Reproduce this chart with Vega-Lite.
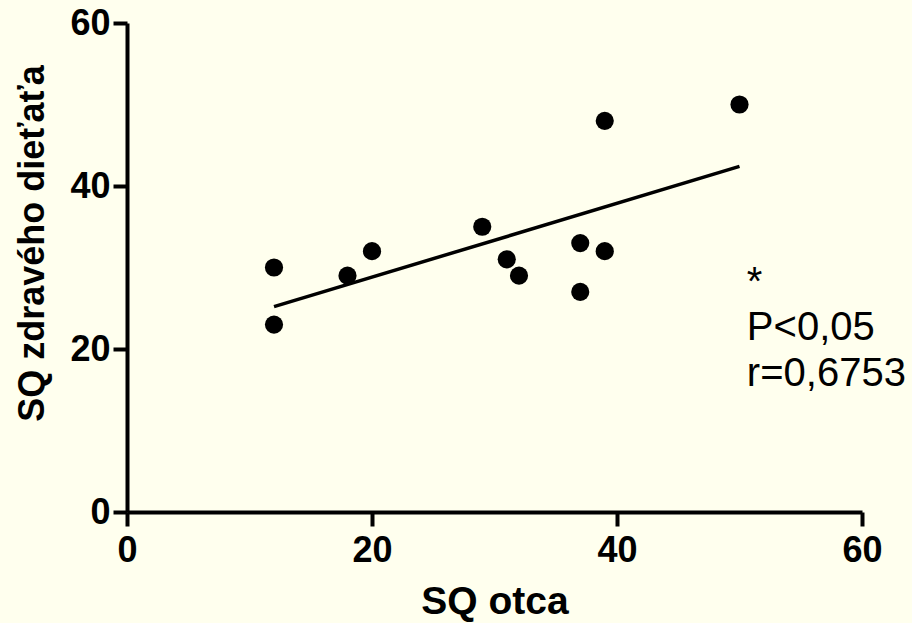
{
  "$schema": "https://vega.github.io/schema/vega-lite/v6.json",
  "width": 735,
  "height": 489,
  "autosize": "none",
  "padding": {"left": 127, "top": 23, "right": 50, "bottom": 111},
  "background": "#FFFFEE",
  "config": {
    "view": {"stroke": null},
    "font": "Liberation Sans",
    "axis": {
      "grid": false,
      "labelFlush": false,
      "domainColor": "#000000",
      "domainWidth": 4,
      "tickColor": "#000000",
      "tickWidth": 4,
      "tickSize": 14,
      "labelFont": "Liberation Sans",
      "labelFontSize": 36,
      "labelFontWeight": "bold",
      "labelColor": "#000000",
      "titleFont": "Liberation Sans",
      "titleFontSize": 37,
      "titleFontWeight": "bold",
      "titleColor": "#000000"
    }
  },
  "datasets": {
    "points": [
      {"otca": 12, "dieta": 30},
      {"otca": 12, "dieta": 23},
      {"otca": 18, "dieta": 29},
      {"otca": 20, "dieta": 32},
      {"otca": 29, "dieta": 35},
      {"otca": 31, "dieta": 31},
      {"otca": 32, "dieta": 29},
      {"otca": 37, "dieta": 33},
      {"otca": 37, "dieta": 27},
      {"otca": 39, "dieta": 48},
      {"otca": 39, "dieta": 32},
      {"otca": 50, "dieta": 50}
    ],
    "fit": [
      {"otca": 12, "dieta": 25.2},
      {"otca": 50, "dieta": 42.4}
    ],
    "notes": [
      {"otca": 50.6, "dieta": 26.6, "label": "*"},
      {"otca": 50.6, "dieta": 21.1, "label": "P<0,05"},
      {"otca": 50.6, "dieta": 15.4, "label": "r=0,6753"}
    ]
  },
  "layer": [
    {
      "data": {"name": "fit"},
      "mark": {"type": "line", "color": "#000000", "strokeWidth": 3.5},
      "encoding": {
        "x": {
          "field": "otca",
          "type": "quantitative",
          "scale": {"domain": [0, 60], "nice": false, "zero": false},
          "axis": {
            "title": "SQ otca",
            "titleFontSize": 39,
            "values": [0, 20, 40, 60],
            "labelPadding": 7,
            "titlePadding": 14
          }
        },
        "y": {
          "field": "dieta",
          "type": "quantitative",
          "scale": {"domain": [0, 60], "nice": false, "zero": false},
          "axis": {
            "title": "SQ zdravého dieťaťa",
            "titleFontSize": 36,
            "values": [0, 20, 40, 60],
            "labelPadding": 3,
            "titlePadding": 18,
            "titleY": 220
          }
        }
      }
    },
    {
      "data": {"name": "points"},
      "mark": {"type": "circle", "color": "#000000", "opacity": 1, "size": 330},
      "encoding": {
        "x": {"field": "otca", "type": "quantitative"},
        "y": {"field": "dieta", "type": "quantitative"}
      }
    },
    {
      "data": {"name": "notes"},
      "mark": {"type": "text", "align": "left", "baseline": "alphabetic", "fontSize": 40, "font": "Liberation Sans", "color": "#000000"},
      "encoding": {
        "x": {"field": "otca", "type": "quantitative"},
        "y": {"field": "dieta", "type": "quantitative"},
        "text": {"field": "label"}
      }
    }
  ]
}
